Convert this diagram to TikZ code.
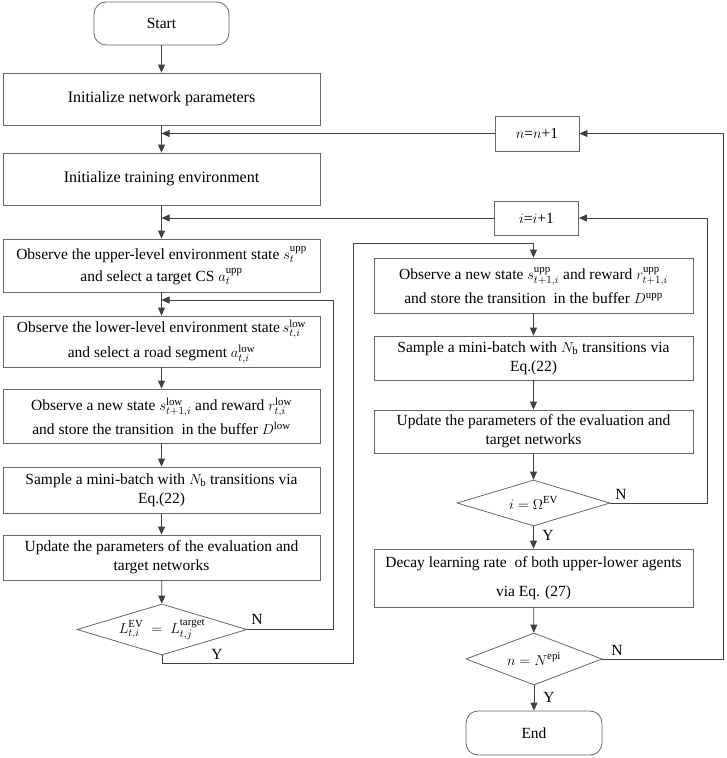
\documentclass[tikz,border=0pt]{standalone}
\usepackage{fontspec}
\setmainfont{Liberation Serif}
\usetikzlibrary{shapes.geometric,arrows.meta}
\newcommand{\fsz}{\fontsize{15.5}{19}\selectfont}
\newcommand{\up}[1]{\mathrm{#1}}
\begin{document}
\begin{tikzpicture}[x=1pt,y=-1pt,
  box/.style={draw=black!60, line width=0.8pt, minimum width=317pt, align=center, inner sep=0pt, font=\fsz},
  term/.style={box, rounded corners=12pt, minimum width=135pt},
  small/.style={box, minimum width=84pt, minimum height=35pt},
  dec/.style={diamond, draw=black!60, line width=0.8pt, aspect=3.3, inner sep=0pt, font=\fsz},
  arr/.style={-{Triangle[length=8pt,width=7pt]}, draw=black!75, line width=0.8pt},
  conn/.style={draw=black!75, line width=0.8pt},
  lab/.style={font=\fsz, inner sep=0pt}]
\useasboundingbox (0,0) rectangle (726,758);

% left column
\node[term, minimum height=43pt] (start) at (161.5,23.5) {Start};
\node[box, minimum height=52pt, font=\fontsize{16}{19}\selectfont] (init1) at (161.5,99) {Initialize network parameters};
\node[box, minimum height=52pt, font=\fontsize{16}{19}\selectfont] (init2) at (161.5,179) {Initialize training environment};
\node[box, minimum height=53pt] (obsU) at (161.5,265.5) {Observe the upper-level environment state $s_t^{\up{upp}}$\\[3pt] and select a target CS $a_t^{\up{upp}}$};
\node[box, minimum height=51pt] (obsL) at (161.5,341.5) {Observe the lower-level environment state\,$s_{t,i}^{\up{low}}$\\[6pt] and select a road segment $a_{t,i}^{\up{low}}$};
\node[box, minimum height=54pt] (newL) at (161.5,416) {Observe a new state $s_{t+1,i}^{\up{low}}$ and reward $r_{t,i}^{\up{low}}$\\[5pt] and store the transition \ in the buffer $D^{\up{low}}$};
\node[box, minimum height=46pt] (sampL) at (161.5,490) {Sample a mini-batch with $N_{\up{b}}$ transitions via\\ Eq.(22)};
\node[box, minimum height=45pt] (updL) at (161.5,557.5) {Update the parameters of the evaluation and\\ target networks};
\node[dec, minimum width=170pt, minimum height=51pt] (dL) at (162,629.5) {$L_{t,i}^{\up{EV}}\;=\;L_{t,j}^{\up{target}}$};

% right column
\node[small] (nbox) at (537,133.5) {$n$=$n$+1};
\node[small, minimum height=34pt] (ibox) at (536.5,218) {$i$=$i$+1};
\node[box, minimum width=319pt, minimum height=55pt] (newU) at (533.5,285.5) {Observe a new state $s_{t+1,i}^{\up{upp}}$ and reward $r_{t+1,i}^{\up{upp}}$\\[5pt] and store the transition \ in the buffer $D^{\up{upp}}$};
\node[box, minimum width=319pt, minimum height=44pt] (sampU) at (533.5,358) {Sample a mini-batch with $N_{\up{b}}$ transitions via\\ Eq.(22)};
\node[box, minimum width=319pt, minimum height=43pt] (updU) at (533.5,431.5) {Update the parameters of the evaluation and\\ target networks};
\node[dec, minimum width=153pt, minimum height=46pt] (dI) at (533.5,503) {$i=\Omega^{\up{EV}}$};
\node[box, minimum width=319pt, minimum height=58pt, font=\fontsize{15.5}{29}\selectfont] (decay) at (533.5,578) {Decay learning rate \ of both upper-lower agents\\ via Eq. (27)};
\node[dec, minimum width=136pt, minimum height=52pt] (dN) at (534,659) {$n=N^{\up{epi}}$};
\node[term, minimum width=136pt, minimum height=44pt] (end) at (534,733) {End};

% labels
\node[lab] (lN1) at (257,619) {N};
\node[lab] (lY1) at (217,654) {Y};
\node[lab] (lN2) at (621,494) {N};
\node[lab] (lY2) at (548,535) {Y};
\node[lab] (lN3) at (617,650) {N};
\node[lab] (lY3) at (549,697) {Y};

% helper coordinates
\coordinate (cL) at (333,300);
\coordinate (cY) at (353,663);
\coordinate (cT) at (353,243);
\coordinate (cI) at (707,503);
\coordinate (cN) at (723,659);

% left flow
\draw[arr] (start) -- (init1);
\draw[arr] (init1) -- (init2);
\draw[arr] (nbox.west) -- (nbox.west -| init1.south);
\draw[arr] (init2) -- (obsU);
\draw[arr] (ibox.west) -- (ibox.west -| init2.south);
\draw[arr] (obsU) -- (obsL);
\draw[arr] (dL.east) -| (cL) -- (cL -| obsU.south);
\draw[arr] (obsL) -- (newL);
\draw[arr] (newL) -- (sampL);
\draw[arr] (sampL) -- (updL);
\draw[arr] (updL) -- (dL);
\draw[arr] (dL.south) |- (cY) -- (cT) -| (newU.north);

% right flow
\draw[arr] (newU) -- (sampU);
\draw[arr] (sampU) -- (updU);
\draw[arr] (updU) -- (dI);
\draw[arr] (dI) -- (decay);
\draw[arr] (dI.east) -- (cI) |- (ibox.east);
\draw[arr] (decay) -- (dN);
\draw[arr] (dN) -- (end);
\draw[arr] (dN.east) -- (cN) |- (nbox.east);
\end{tikzpicture}
\end{document}
